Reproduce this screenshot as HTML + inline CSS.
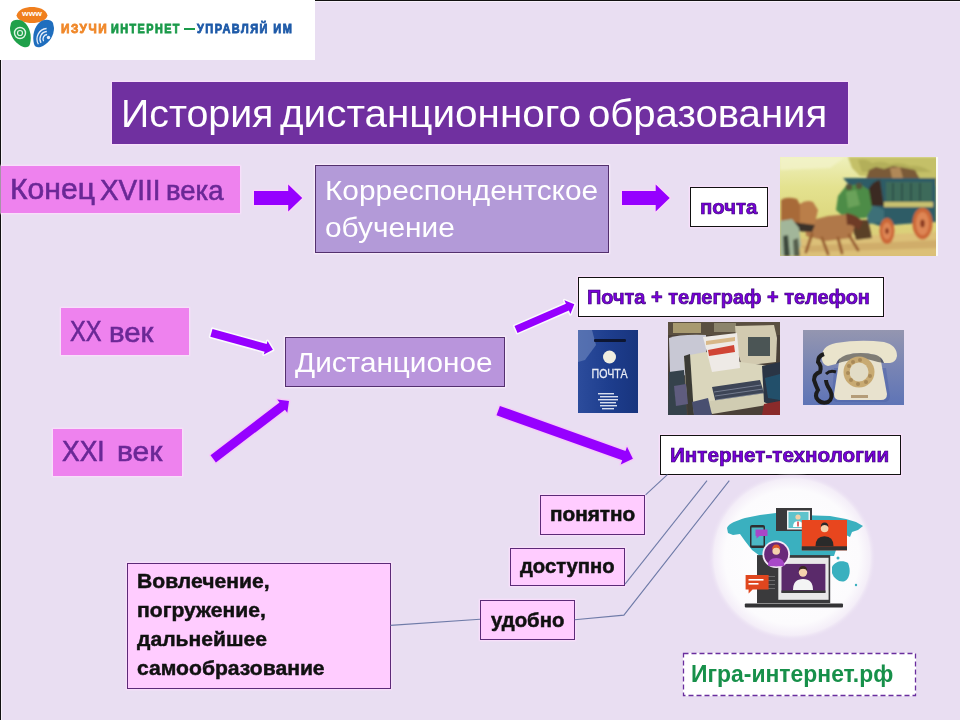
<!DOCTYPE html>
<html><head><meta charset="utf-8"><style>
html,body{margin:0;padding:0;}
body{width:960px;height:720px;position:relative;overflow:hidden;background:#E9DEF2;font-family:"Liberation Sans",sans-serif;}
.t{position:absolute;white-space:pre;line-height:1;transform-origin:0 0;}
.b{position:absolute;box-sizing:border-box;}
svg{position:absolute;left:0;top:0;}
</style></head><body>
<div class="b" style="left:0;top:60px;width:1px;height:660px;background:#111"></div>
<div class="b" style="left:1px;top:60px;width:1px;height:660px;background:#F6F0FA"></div>
<div class="b" style="left:315px;top:0;width:645px;height:1px;background:#111"></div>
<div class="b" style="left:315px;top:1px;width:645px;height:1px;background:#F6F0FA"></div>
<div class="b" style="left:0;top:0;width:315px;height:60px;background:#fff"></div>
<svg style="left:0;top:0" width="60" height="52" viewBox="0 0 60 52">
<path d="M16.5 15.5 C18 9 26 7 32 7 C38 7 46 9 47.5 15.5 C46 21 39 23 32 23 C25 23 18 21 16.5 15.5 Z" fill="#F07F1E"/>
<text x="32" y="16" font-family="Liberation Sans" font-weight="700" font-size="7" fill="#fff" text-anchor="middle" textLength="20" lengthAdjust="spacingAndGlyphs">www</text>
<path d="M11 23 C13 19 20 19 24 22 C30 27 32 36 30 44 C29 48 25 48 21 46 C14 42 10 35 10 28 Z" fill="#1FA04A"/>
<circle cx="20" cy="33" r="5.5" fill="none" stroke="#DFF5E6" stroke-width="1.4"/>
<circle cx="20" cy="33" r="2.5" fill="none" stroke="#DFF5E6" stroke-width="1.2"/>
<path d="M53 23 C51 19 44 19 40 22 C34 27 32 36 34 44 C35 48 39 48 43 46 C50 42 54 35 54 28 Z" fill="#1F6EBE"/>
<g fill="none" stroke="#E6EEFA" stroke-width="1.3"><path d="M43.6 41.2 A4.5 4.5 0 0 1 47.1 34.5"/><path d="M41.0 42.8 A7.5 7.5 0 0 1 46.8 31.5"/><path d="M38.4 44.2 A10.5 10.5 0 0 1 46.6 28.5"/></g><circle cx="48.5" cy="37.5" r="1.7" fill="#E6EEFA"/>
</svg>
<div class="b" style="left:112px;top:82px;width:736px;height:62px;background:#7030A0;box-shadow:0 0 1.5px 1px rgba(255,225,255,.85)"></div>
<div class="b" style="left:1px;top:166px;width:239px;height:47px;background:#EE82EE;box-shadow:0 0 1.5px 1px rgba(255,225,255,.85)"></div>
<div class="b" style="left:315px;top:165px;width:294px;height:88px;background:#B39AD8;border:1px solid #53306E;box-shadow:0 0 1.5px 1px rgba(255,240,255,.8)"></div>
<div class="b" style="left:690px;top:187px;width:78px;height:40px;background:#fff;border:1.5px solid #111;box-shadow:0 0 1.5px 1px rgba(255,225,255,.85)"></div>
<svg style="left:780px;top:157px" width="158" height="99" viewBox="780 157 158 99">
<defs>
<linearGradient id="csky" x1="0" y1="0" x2="0" y2="1">
<stop offset="0" stop-color="#EEF0BC"/><stop offset="0.3" stop-color="#E4E290"/><stop offset="0.65" stop-color="#DCD67C"/><stop offset="1" stop-color="#D8C274"/></linearGradient>
<filter id="cb" x="-5%" y="-5%" width="110%" height="110%"><feGaussianBlur stdDeviation="0.8"/></filter>
</defs>
<rect x="780" y="157" width="158" height="99" fill="url(#csky)"/>
<g filter="url(#cb)">
<path d="M848 157 L938 157 L938 185 L900 178 L860 176 L852 168 Z" fill="#C4C068"/>
<path d="M858 160 q8 -2 14 3 q10 -3 18 1 q10 -3 20 2 q10 -1 18 4 L932 172 L862 172 Z" fill="#A8A452" opacity="0.6"/>
<path d="M780 157 L845 157 L830 168 L780 170 Z" fill="#F4F4CC" opacity="0.7"/>
<path d="M780 240 L938 232 L938 256 L780 256 Z" fill="#DCC078"/>
<path d="M800 246 L938 240 L938 248 L810 252 Z" fill="#C8A060" opacity="0.6"/>
<path d="M866 179 L869 170 L876 167 L884 169 L893 166 L905 168 L915 170 L920 179 Z" fill="#7A5A38"/>
<path d="M890 168 L900 167 L903 178 L892 178 Z" fill="#B08858"/>
<path d="M843 178 L936 178 L936 222 L905 224 L880 226 L868 222 L866 200 L850 186 Z" fill="#2F5C66"/>
<path d="M866 200 q2 -18 14 -20 L884 206 L869 206 Z" fill="#3A2A20"/>
<rect x="886" y="182" width="46" height="20" fill="#3E6A5A"/>
<g stroke="#2A4A48" stroke-width="1.5"><line x1="893" y1="183" x2="893" y2="201"/><line x1="902" y1="183" x2="902" y2="201"/><line x1="911" y1="183" x2="911" y2="201"/><line x1="920" y1="183" x2="920" y2="201"/></g>
<rect x="884" y="202" width="49" height="5" fill="#C8C070"/>
<path d="M866 206 q8 -2 18 4 L884 222 L868 224 Z" fill="#3C7078"/>
<path d="M838 196 L846 186 L860 184 L869 190 L872 208 L866 218 L846 219 L836 210 Z" fill="#4E8C46"/>
<path d="M846 192 L856 190 L860 205 L848 208 Z" fill="#6AA25A"/>
<circle cx="849" cy="187" r="3.2" fill="#55553A"/>
<circle cx="859" cy="186" r="3.2" fill="#55553A"/>
<path d="M850 220 L868 220 L872 238 L856 240 Z" fill="#5A4028"/>
<ellipse cx="887" cy="231" rx="7.5" ry="13" fill="#CC6838"/>
<ellipse cx="887" cy="231" rx="4.5" ry="8.5" fill="#DE8654"/>
<ellipse cx="887" cy="231" rx="1.8" ry="3" fill="#8A3A20"/>
<ellipse cx="922.5" cy="223.5" rx="10" ry="16" fill="#CC6838"/>
<ellipse cx="922.5" cy="223.5" rx="6.5" ry="11.5" fill="#DE8654"/>
<ellipse cx="922.5" cy="223.5" rx="2.2" ry="4" fill="#8A3A20"/>
<path d="M805 222 L828 216 L850 214 L856 222 L851 238 L826 241 L806 236 Z" fill="#B07848"/>
<path d="M846 213 Q856 214 863 222 L859 230 Q852 224 847 225 Z" fill="#6E3A28"/>
<g stroke="#9A6034" stroke-width="3" stroke-linecap="round" fill="none"><path d="M812 234 L806 252"/><path d="M822 238 L828 254"/><path d="M838 238 L842 253"/><path d="M849 235 L858 250"/></g>
<path d="M781 200 Q786 196 797 199 L804 212 L801 223 L790 226 L781 223 Z" fill="#A86A38"/>
<path d="M800 204 Q806 199 813 202 L818 210 L815 223 L808 229 L800 223 Z" fill="#BA7E48"/>
<path d="M792 222 L815 225 L812 232 L795 231 Z" fill="#3A302A"/>
<path d="M780 221 L792 219 L799 228 L801 245 L797 256 L780 256 Z" fill="#A2B69A"/>
<path d="M783 236 L788 235 L790 256 L784 256 Z" fill="#3E4A3C"/>
<path d="M793 240 L798 238 L800 256 L794 256 Z" fill="#56604E"/>
</g>
<rect x="936" y="157" width="2" height="99" fill="#FAFAF4"/>
</svg>
<div class="b" style="left:61px;top:308px;width:128px;height:47px;background:#EE82EE;box-shadow:0 0 1.5px 1px rgba(255,225,255,.85)"></div>
<div class="b" style="left:53px;top:429px;width:129px;height:47px;background:#EE82EE;box-shadow:0 0 1.5px 1px rgba(255,225,255,.85)"></div>
<div class="b" style="left:285px;top:337px;width:220px;height:50px;background:#B995DC;border:1px solid #53306E;box-shadow:0 0 1.5px 1px rgba(255,240,255,.8)"></div>
<div class="b" style="left:578px;top:277px;width:306px;height:40px;background:#fff;border:1.5px solid #111;box-shadow:0 0 1.5px 1px rgba(255,225,255,.85)"></div>
<svg style="left:578px;top:330px" width="60" height="83" viewBox="578 330 60 83">
<defs><linearGradient id="pbg" x1="0" y1="0" x2="1" y2="0"><stop offset="0" stop-color="#2C4C9C"/><stop offset="0.5" stop-color="#1E3E8E"/><stop offset="1" stop-color="#18347E"/></linearGradient>
<filter id="pb" x="-5%" y="-5%" width="110%" height="110%"><feGaussianBlur stdDeviation="0.5"/></filter></defs>
<rect x="578" y="330" width="60" height="83" fill="url(#pbg)"/>
<g filter="url(#pb)">
<path d="M578 330 L592 330 L596 345 L585 360 L578 362 Z" fill="#6F88C0" opacity="0.6"/>
<rect x="594" y="339" width="32" height="3" rx="1" fill="#101830"/>
<circle cx="609.5" cy="357" r="6.5" fill="#F0EEE0"/>
<text x="609.5" y="377.5" font-family="Liberation Sans" font-weight="400" font-size="13" fill="#E8ECF4" stroke="#E8ECF4" stroke-width="0.3" text-anchor="middle" textLength="36" lengthAdjust="spacingAndGlyphs">ПОЧТА</text>
<g fill="#D8DEEE"><rect x="598" y="393" width="16" height="1.4"/><rect x="600" y="396" width="18" height="1.4"/><rect x="598" y="399" width="20" height="1.4"/><rect x="600" y="402" width="16" height="1.4"/><rect x="600" y="405" width="17" height="1.4"/><rect x="602" y="408" width="12" height="1.4"/></g>
</g>
</svg>
<svg style="left:668px;top:322px" width="112" height="93" viewBox="668 322 112 93">
<filter id="cpb" x="-5%" y="-5%" width="110%" height="110%"><feGaussianBlur stdDeviation="0.7"/></filter>
<rect x="668" y="322" width="112" height="93" fill="#4A4038"/>
<g filter="url(#cpb)">
<rect x="668" y="322" width="112" height="13" fill="#5A5040"/>
<rect x="673" y="323" width="28" height="10" fill="#A89A70"/>
<rect x="714" y="323" width="22" height="9" fill="#8C846C"/>
<path d="M669 338 Q680 334 706 335 L706 372 L680 376 L670 372 Z" fill="#C8C8D4"/>
<path d="M669 372 L684 370 L687 415 L668 415 Z" fill="#36434C"/>
<path d="M735 326 L774 325 L777 338 L776 362 L742 366 L737 350 Z" fill="#D2CAB0"/>
<rect x="748" y="337" width="22" height="19" fill="#4C5454"/>
<path d="M684 356 L706 352 L740 362 L770 366 L774 392 L718 404 L704 415 L690 415 L686 390 Z" fill="#DAD6BC"/>
<path d="M684 356 L690 354 L694 415 L688 415 Z" fill="#3A3A36"/>
<path d="M703 337 L737 333 L740 368 L712 372 Z" fill="#EEEAE6"/>
<path d="M706 341 L735 337 L735 341 L706 345 Z" fill="#D8B888"/>
<path d="M708 350 L734 345 L735 352 L709 356 Z" fill="#D04434"/>
<path d="M712 387 L760 380 L766 399 L717 408 Z" fill="#3C4456"/>
<g stroke="#8A92A4" stroke-width="0.9" opacity="0.8"><path d="M714 392 L761 385"/><path d="M715 396 L763 389"/><path d="M716 400 L764 393"/><path d="M717 404 L765 397"/></g>
<path d="M704 402 L766 393 L773 404 L712 414 Z" fill="#D0CCB2"/>
<path d="M762 366 L780 362 L780 410 L764 402 Z" fill="#2C3444"/>
<path d="M765 378 L780 374 L780 400 L768 398 Z" fill="#24506A"/>
<path d="M674 386 L686 384 L688 404 L676 406 Z" fill="#5E5C7E"/>
<path d="M692 402 L708 398 L712 415 L694 415 Z" fill="#4A5070"/>
<path d="M764 404 L780 401 L780 415 L762 415 Z" fill="#8A2C2C"/>
</g>
</svg>
<svg style="left:803px;top:330px" width="101" height="75" viewBox="803 330 101 75">
<defs><linearGradient id="phbg" x1="0" y1="0" x2="0" y2="1"><stop offset="0" stop-color="#9496B0"/><stop offset="0.5" stop-color="#7884B4"/><stop offset="1" stop-color="#5E74B6"/></linearGradient>
<filter id="phb" x="-5%" y="-5%" width="110%" height="110%"><feGaussianBlur stdDeviation="0.5"/></filter></defs>
<rect x="803" y="330" width="101" height="75" fill="url(#phbg)"/>
<g filter="url(#phb)">
<path d="M834 368 L886 368 L890 396 Q890 402 884 402 L838 402 Q832 402 832 396 Z" fill="#4E64A8" opacity="0.5"/>
<path d="M840 356 Q860 350 880 356 L887 394 Q887 400 881 400 L840 400 Q834 400 834 394 Z" fill="#E8E2CE"/>
<path d="M822 360 Q820 346 836 343 Q860 339 884 342 Q897 345 897 356 Q896 362 890 363 L884 363 Q882 357 876 355 Q860 351 846 355 Q838 358 836 364 L828 366 Q823 365 822 360 Z" fill="#EAE4CC"/>
<path d="M836 364 Q838 358 846 355 Q860 351 876 355 Q882 357 884 363 L878 362 Q862 356 842 362 Z" fill="#3A3A3A" opacity="0.6"/>
<circle cx="859" cy="372" r="15.5" fill="#C8AA72"/>
<circle cx="859" cy="372" r="9.5" fill="#E2DCC6"/>
<g fill="#A88A58"><circle cx="849" cy="366" r="2"/><circle cx="848" cy="373" r="2"/><circle cx="851" cy="380" r="2"/><circle cx="858" cy="384" r="2"/><circle cx="866" cy="382" r="2"/><circle cx="870" cy="376" r="2"/><circle cx="853" cy="362" r="2"/><circle cx="860" cy="360" r="2"/></g>
<rect x="851" y="395" width="17" height="3" fill="#B49C78"/>
<path d="M824 354 q-6 2 -6 8 q4 4 2 10 q-6 2 -6 8 q2 6 4 10 q-4 6 0 10 q4 4 10 2 q6 -4 2 -12 q-4 -6 -4 -10" stroke="#1C1C1E" stroke-width="4" fill="none"/>
<path d="M826 374 q4 -4 10 -2" stroke="#1C1C1E" stroke-width="3" fill="none"/>
</g>
</svg>
<div class="b" style="left:660px;top:435px;width:241px;height:40px;background:#fff;border:1.5px solid #111;box-shadow:0 0 1.5px 1px rgba(255,225,255,.85)"></div>
<div class="b" style="left:540px;top:495px;width:105px;height:40px;background:#FFCCFF;border:1px solid #5C2A78;box-shadow:0 0 1.5px 1px rgba(255,225,255,.85)"></div>
<div class="b" style="left:510px;top:548px;width:115px;height:38px;background:#FFCCFF;border:1px solid #5C2A78;box-shadow:0 0 1.5px 1px rgba(255,225,255,.85)"></div>
<div class="b" style="left:480px;top:600px;width:95px;height:40px;background:#FFCCFF;border:1px solid #5C2A78;box-shadow:0 0 1.5px 1px rgba(255,225,255,.85)"></div>
<div class="b" style="left:127px;top:563px;width:264px;height:126px;background:#FFCCFF;border:1px solid #5C2A78;box-shadow:0 0 1.5px 1px rgba(255,225,255,.85)"></div>
<div class="b" style="left:683px;top:653px;width:233px;height:43px;background:#fff"></div>
<svg width="960" height="720"><rect x="683.5" y="653.5" width="232" height="42" fill="none" stroke="#6A2E9E" stroke-width="1.3" stroke-dasharray="5 3"/></svg>
<svg style="left:700px;top:470px" width="190" height="175" viewBox="700 470 190 175">
<defs><radialGradient id="glow" cx="0.5" cy="0.5" r="0.5">
<stop offset="0" stop-color="#fff"/><stop offset="0.8" stop-color="#fcfbfd"/><stop offset="0.93" stop-color="#F4EEF8"/><stop offset="1" stop-color="#E9DEF2" stop-opacity="0"/></radialGradient></defs>
<circle cx="792" cy="557" r="84" fill="url(#glow)"/>
<g fill="#3AB0BF">
<path d="M727 528 C729 523 736 521 745 518 L760 515 L776 513 L800 515 L830 516 L846 519 L856 522 L863 526 L858 530 L852 532 L850 537 L846 535 L838 540 L836 550 L834 556 L818 556 L805 557 L790 559 L770 559 L760 556 L752 550 L745 541 L740 534 L733 535 L728 533 Z"/>
<path d="M832 567 C835 561 843 560 848 563 C851 570 850 578 845 581 C840 583 834 579 832 573 Z"/>
<circle cx="838" cy="558" r="1.5"/><circle cx="856" cy="585" r="1.2"/>
</g>
<rect x="776" y="508" width="36" height="23" fill="#3A3A3C"/>
<rect x="787" y="510.5" width="23" height="19" fill="#F2F2F2"/>
<rect x="788.5" y="512" width="20" height="16" fill="#5FC3CC"/>
<circle cx="798" cy="517" r="2.6" fill="#F2D0A8"/>
<path d="M793 527 q0 -6 5 -6 q5 0 5 6 Z" fill="#fff"/>
<rect x="797.3" y="521.5" width="1.4" height="5" fill="#D03030"/>
<rect x="750" y="525" width="15" height="23" rx="2" fill="#2E2E30"/>
<rect x="751.5" y="527.5" width="12" height="18" fill="#4CB8C4"/>
<path d="M755.5 529.5 h12 v6.5 h-8 l-3 2.5 v-2.5 h-1 Z" fill="#A846C8"/>
<rect x="801.8" y="520" width="45.2" height="30.3" fill="#E8461E"/>
<rect x="801.8" y="546.3" width="45.2" height="4" fill="#333"/>
<circle cx="824.6" cy="528.5" r="3.8" fill="#F4D2AC"/>
<path d="M820.8 527 q0 -4.5 3.8 -4.5 q3.8 0 3.8 4.5 q-1 -2 -3.8 -2 q-2.8 0 -3.8 2 Z" fill="#2A2A2A"/>
<path d="M815.5 546.3 q0 -10 9 -10 q9 0 9 10 Z" fill="#2A2A2A"/>
<rect x="757" y="555.1" width="73.2" height="48" fill="#3A3A3C"/>
<rect x="778.3" y="557.8" width="50.3" height="42" fill="#E8E8E8"/>
<rect x="781.5" y="563.9" width="43.9" height="28.8" fill="#5A2A6A"/>
<rect x="781.5" y="590.5" width="43.9" height="2.5" fill="#3A3A3A"/>
<g fill="#6A6A6C"><rect x="760" y="576" width="15" height="1"/><rect x="760" y="580" width="15" height="1"/><rect x="760" y="584" width="15" height="1"/><rect x="760" y="588" width="15" height="1"/></g>
<circle cx="803" cy="572.5" r="4.2" fill="#F4D2AC"/>
<path d="M798.8 571 q0 -5 4.2 -5 q4.2 0 4.2 5 q-1 -2.2 -4.2 -2.2 q-3.2 0 -4.2 2.2 Z" fill="#3A2A20"/>
<path d="M793 590 q0 -11 10 -11 q10 0 10 11 Z" fill="#F4F4F4"/>
<rect x="744.8" y="603.5" width="98.2" height="4" rx="1" fill="#333335"/>
<circle cx="776.2" cy="554.3" r="13.8" fill="#F6EAF8"/>
<circle cx="776.2" cy="554.3" r="12" fill="#6A2A7A"/>
<path d="M768 566 q0 -8 8.2 -8 q8.2 0 8.2 8 q-4 0.3 -8.2 0.3 q-4.2 0 -8.2 -0.3 Z" fill="#A848C8"/>
<circle cx="776.2" cy="551" r="3.8" fill="#F4D2AC"/>
<path d="M772 550 q0 -5.5 4.2 -5.5 q4.2 0 4.2 5.5 q-1.2 -2.5 -4.2 -2.5 q-3 0 -4.2 2.5 Z" fill="#E05A28"/>
<path d="M745.6 575 h23 v14.5 h-16 l-4 4 v-4 h-3 Z" fill="#E0461E"/>
<rect x="748.5" y="579" width="15" height="1.6" fill="#fff"/>
<rect x="748.5" y="583" width="10" height="1.6" fill="#fff"/>
</svg>
<svg width="960" height="720" viewBox="0 0 960 720"><g stroke="#6F7BA8" stroke-width="1.1" fill="none"><line x1="390.5" y1="625.4" x2="480" y2="619.3"/><polyline points="574.6,619.7 623.9,615.1 729.3,480.6"/><line x1="625" y1="584.2" x2="707" y2="480.6"/><line x1="645.6" y1="494.8" x2="667.4" y2="474.6"/></g><polygon points="254.0,205.0 288.2,205.0 288.2,211.5 302.2,198.0 288.2,184.5 288.2,191.0 254.0,191.0" fill="#FFD4FA" stroke="#FFD4FA" stroke-width="2.5" stroke-linejoin="round" opacity="0.85"/><polygon points="254.0,205.0 288.2,205.0 288.2,211.5 302.2,198.0 288.2,184.5 288.2,191.0 254.0,191.0" fill="#9600FF"/><polygon points="622.0,205.0 655.7,205.0 655.7,211.5 669.7,198.0 655.7,184.5 655.7,191.0 622.0,191.0" fill="#FFD4FA" stroke="#FFD4FA" stroke-width="2.5" stroke-linejoin="round" opacity="0.85"/><polygon points="622.0,205.0 655.7,205.0 655.7,211.5 669.7,198.0 655.7,184.5 655.7,191.0 622.0,191.0" fill="#9600FF"/><polygon points="210.3,336.7 264.6,351.7 263.8,354.5 272.9,349.8 267.5,341.1 266.7,343.9 212.5,328.9" fill="#fff" stroke="#fff" stroke-width="3" stroke-linejoin="round" opacity="0.85"/><polygon points="210.3,336.7 264.6,351.7 263.8,354.5 272.9,349.8 267.5,341.1 266.7,343.9 212.5,328.9" fill="#9600FF"/><polygon points="215.9,462.5 285.0,409.7 287.3,412.7 289.0,401.0 277.2,399.6 279.5,402.6 210.5,455.3" fill="#F8C8F8" stroke="#F8C8F8" stroke-width="3" stroke-linejoin="round" opacity="0.85"/><polygon points="215.9,462.5 285.0,409.7 287.3,412.7 289.0,401.0 277.2,399.6 279.5,402.6 210.5,455.3" fill="#9600FF"/><polygon points="517.5,332.9 568.9,310.6 570.4,314.1 574.3,304.2 564.4,300.3 565.9,303.7 514.5,326.1" fill="#fff" stroke="#fff" stroke-width="3" stroke-linejoin="round" opacity="0.85"/><polygon points="517.5,332.9 568.9,310.6 570.4,314.1 574.3,304.2 564.4,300.3 565.9,303.7 514.5,326.1" fill="#9600FF"/><polygon points="496.5,415.3 622.2,460.3 620.7,464.4 632.9,458.8 627.0,446.8 625.5,450.9 499.9,405.9" fill="#F8C8F8" stroke="#F8C8F8" stroke-width="3" stroke-linejoin="round" opacity="0.85"/><polygon points="496.5,415.3 622.2,460.3 620.7,464.4 632.9,458.8 627.0,446.8 625.5,450.9 499.9,405.9" fill="#9600FF"/></svg>
<div class="t" style="left:121.48px;top:93.65px;font-size:39px;font-weight:400;color:#fff;transform:scaleX(1.0075);">История</div>
<div class="t" style="left:280.3px;top:93.65px;font-size:39px;font-weight:400;color:#fff;transform:scaleX(1.037);">дистанционного</div>
<div class="t" style="left:587.94px;top:93.65px;font-size:39px;font-weight:400;color:#fff;transform:scaleX(1.0289);">образования</div>
<div class="t" style="left:10.22px;top:175.35px;font-size:29px;font-weight:400;color:#6A2896;transform:scaleX(1.038);-webkit-text-stroke:0.6px currentColor;">Конец</div>
<div class="t" style="left:99.67px;top:174.5px;font-size:30px;font-weight:400;color:#6A2896;transform:scaleX(0.9295);-webkit-text-stroke:0.6px currentColor;">XVIII</div>
<div class="t" style="left:166.37px;top:175.78px;font-size:28.5px;font-weight:400;color:#6A2896;transform:scaleX(0.9638);-webkit-text-stroke:0.6px currentColor;">века</div>
<div class="t" style="left:324.61px;top:175.78px;font-size:28.5px;font-weight:400;color:#fff;transform:scaleX(1.0465);">Корреспондентское</div>
<div class="t" style="left:324.61px;top:213.28px;font-size:28.5px;font-weight:400;color:#fff;transform:scaleX(1.0465);">обучение</div>
<div class="t" style="left:699.63px;top:195.9px;font-size:21px;font-weight:700;color:#7A00DC;transform:scaleX(0.9707);-webkit-text-stroke:0.7px #34006E;">почта</div>
<div class="t" style="left:69.81px;top:316.4px;font-size:30px;font-weight:400;color:#6A2896;transform:scaleX(0.7895);-webkit-text-stroke:0.6px currentColor;">XX</div>
<div class="t" style="left:109.34px;top:317.67px;font-size:28.5px;font-weight:400;color:#6A2896;transform:scaleX(1.0293);-webkit-text-stroke:0.6px currentColor;">век</div>
<div class="t" style="left:61.59px;top:436.65px;font-size:29px;font-weight:400;color:#6A2896;transform:scaleX(0.914);-webkit-text-stroke:0.6px currentColor;">XXI</div>
<div class="t" style="left:116.96px;top:437.5px;font-size:28px;font-weight:400;color:#6A2896;transform:scaleX(1.07);-webkit-text-stroke:0.6px currentColor;">век</div>
<div class="t" style="left:294.7px;top:347.67px;font-size:28.5px;font-weight:400;color:#fff;transform:scaleX(1.0431);">Дистанционое</div>
<div class="t" style="left:587.15px;top:285.9px;font-size:21px;font-weight:700;color:#7A00DC;transform:scaleX(0.949);-webkit-text-stroke:0.7px #34006E;">Почта + телеграф + телефон</div>
<div class="t" style="left:670.09px;top:444.68px;font-size:20.5px;font-weight:700;color:#7A00DC;transform:scaleX(1.0079);-webkit-text-stroke:0.7px #34006E;">Интернет-технологии</div>
<div class="t" style="left:549.94px;top:505.03px;font-size:19.5px;font-weight:700;color:#111;transform:scaleX(1.0641);-webkit-text-stroke:0.5px #111;">понятно</div>
<div class="t" style="left:519.7px;top:556.25px;font-size:20px;font-weight:700;color:#111;transform:scaleX(1.0113);-webkit-text-stroke:0.5px #111;">доступно</div>
<div class="t" style="left:490.6px;top:609.9px;font-size:20px;font-weight:700;color:#111;transform:scaleX(1.016);-webkit-text-stroke:0.5px #111;">удобно</div>
<div class="t" style="left:137.24px;top:571.2px;font-size:20px;font-weight:700;color:#111;transform:scaleX(1.0557);-webkit-text-stroke:0.45px #111;">Вовлечение,</div>
<div class="t" style="left:137.24px;top:600.2px;font-size:20px;font-weight:700;color:#111;transform:scaleX(1.0557);-webkit-text-stroke:0.45px #111;">погружение,</div>
<div class="t" style="left:137.24px;top:629.2px;font-size:20px;font-weight:700;color:#111;transform:scaleX(1.0557);-webkit-text-stroke:0.45px #111;">дальнейшее</div>
<div class="t" style="left:137.24px;top:658.2px;font-size:20px;font-weight:700;color:#111;transform:scaleX(1.0557);-webkit-text-stroke:0.45px #111;">самообразование</div>
<div class="t" style="left:691.09px;top:661.6px;font-size:24px;font-weight:700;color:#17904A;transform:scaleX(0.955);">Игра-интернет.рф</div>
<div class="t" style="left:61.42px;top:22.7px;font-size:12px;font-weight:700;color:#F0882A;transform:scaleX(0.98);letter-spacing:1.6px;-webkit-text-stroke:0.8px currentColor;">ИЗУЧИ</div>
<div class="t" style="left:111.0px;top:22.7px;font-size:12px;font-weight:700;color:#1A9A4A;transform:scaleX(0.9027);letter-spacing:1.6px;-webkit-text-stroke:0.8px currentColor;">ИНТЕРНЕТ</div>
<div class="b" style="left:184px;top:27.7px;width:10.5px;height:2px;background:#1A9A4A"></div>
<div class="t" style="left:197.3px;top:22.7px;font-size:12px;font-weight:700;color:#1E5AA8;transform:scaleX(0.9146);letter-spacing:1.6px;-webkit-text-stroke:0.8px currentColor;">УПРАВЛЯЙ ИМ</div>
</body></html>
